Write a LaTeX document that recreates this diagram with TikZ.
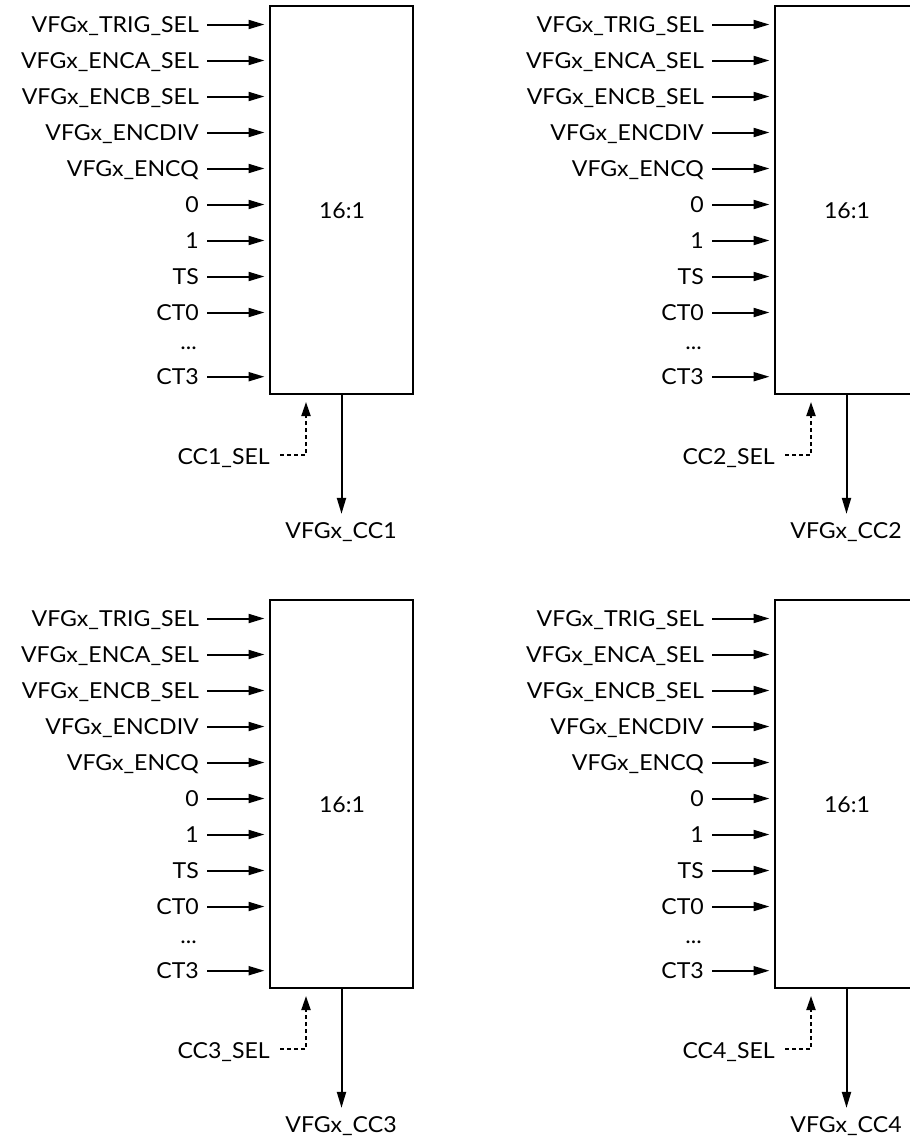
\documentclass[tikz,border=0pt]{standalone}
\usepackage{fontspec}
\setmainfont[FakeStretch=1.05]{Lato}
\usetikzlibrary{arrows.meta}
\tikzset{
  x=1pt, y=-1pt,
  txt/.style={inner sep=0pt, font=\fontsize{22}{26}\selectfont},
  lbl/.style={txt, anchor=base east},
  muxbox/.style={draw, line width=2pt, minimum width=143pt, minimum height=388pt, inner sep=0pt},
  arr/.style={line width=2pt, -{Triangle[length=16pt,width=9pt]}},
  dsh/.style={line width=2pt, dash pattern=on 4pt off 3pt, -{Triangle[length=14pt,width=9pt]}}
}
\newcommand\muxblock[3]{%
\begin{scope}[shift={(#1,#2)}]
  \node[muxbox] (box#3) at (341.5,200) {};
  \node[txt, anchor=base] (ratio#3) at (342,218) {16:1};
  \foreach \t/\y [count=\i] in {VFGx\_TRIG\_SEL/24.5, VFGx\_ENCA\_SEL/60.5, VFGx\_ENCB\_SEL/96.5, VFGx\_ENCDIV/132.5, VFGx\_ENCQ/168.5, 0/204.5, 1/240.5, TS/276.5, CT0/312.5, CT3/376.7}{
    \node[lbl] (in#3-\i) at (199,\y+8) {\t};
    \coordinate (src#3-\i) at (207,\y);
    \draw[arr, shorten >=4.5pt] (src#3-\i) -- (src#3-\i -| box#3.west);
  }
  \node[lbl] (dots#3) at (197,349) {...};
  \node[txt, anchor=base] (out#3) at (341,538) {VFGx\_CC#3};
  \draw[arr, shorten >=8pt] (box#3.south) -- (box#3.south |- out#3.north);
  \node[lbl] (sel#3) at (270,464) {CC#3\_SEL};
  \coordinate (sels#3) at (280,455);
  \coordinate (selt#3) at (306,394);
  \draw[dsh, shorten >=8pt] (sels#3) -| (selt#3);
\end{scope}}
\begin{document}
\begin{tikzpicture}
  \clip (0,0) rectangle (910,1138);
  \muxblock{0}{0}{1}
  \muxblock{505}{0}{2}
  \muxblock{0}{594}{3}
  \muxblock{505}{594}{4}
\end{tikzpicture}
\end{document}
